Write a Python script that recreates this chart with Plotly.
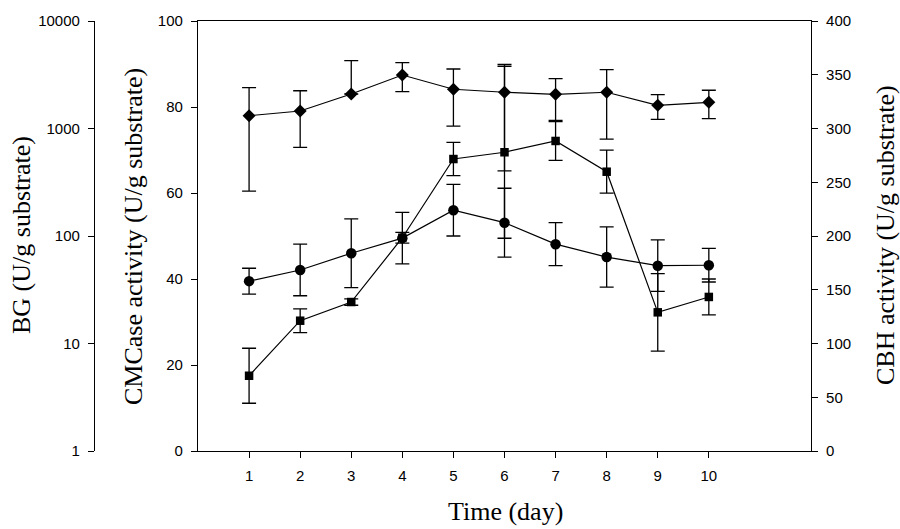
import plotly.graph_objects as go

# ---- data ----
days = [1, 2, 3, 4, 5, 6, 7, 8, 9, 10]

# BG (log axis) - diamonds
bg = [1316, 1455, 2094, 3145, 2317, 2173, 2080, 2173, 1643, 1753]
bg_err_plus = [1080, 790, 2180, 948, 1260, 1775, 825, 1350, 420, 515]
bg_err_minus = [1055, 787, 0, 946, 1265, 1770, 888, 1375, 425, 519]

# CMCase activity - circles
cmc = [39.5, 42.1, 46.0, 49.5, 56.0, 53.1, 48.1, 45.1, 43.1, 43.2]
cmc_err = [3.0, 6.0, 8.0, 6.0, 6.0, 8.0, 5.0, 7.0, 6.0, 3.9]

# CBH activity - squares
cbh = [70.0, 121.2, 138.6, 198.4, 271.6, 277.9, 288.4, 259.8, 129.0, 143.3]
cbh_err = [25.6, 11.0, 3.0, 5.0, 15.5, 80.0, 18.0, 20.0, 36.0, 16.7]

bg_ticks = [1, 10, 100, 1000, 10000]
bg_ticktext = ["1", "10", "100", "1000", "10000"]

W, H = 900, 529
L_PX, R_PX = 198, 811
TICKFONT = dict(family="Liberation Sans, Arial, sans-serif", size=15, color="black")
TITLEFONT = dict(family="Liberation Serif, Times New Roman, serif", size=26, color="black")

def err(arr, minus=None):
    d = dict(type="data", array=arr, visible=True, color="black",
             thickness=1.3, width=7)
    if minus is not None:
        d["symmetric"] = False
        d["arrayminus"] = minus
    return d

fig = go.Figure()

fig.add_trace(go.Scatter(
    x=days, y=bg, yaxis="y3", mode="lines+markers", name="BG",
    line=dict(color="black", width=1.2),
    marker=dict(symbol="diamond", size=10, color="black"),
    error_y=err(bg_err_plus, bg_err_minus)))

fig.add_trace(go.Scatter(
    x=days, y=cbh, yaxis="y2", mode="lines+markers", name="CBH",
    line=dict(color="black", width=1.2),
    marker=dict(symbol="square", size=8.5, color="black"),
    error_y=err(cbh_err)))

fig.add_trace(go.Scatter(
    x=days, y=cmc, yaxis="y", mode="lines+markers", name="CMCase",
    line=dict(color="black", width=1.2),
    marker=dict(symbol="circle", size=10.5, color="black"),
    error_y=err(cmc_err)))

axis_common = dict(showgrid=False, zeroline=False, showline=True,
                   linecolor="black", linewidth=1.2, ticks="outside",
                   ticklen=6, tickwidth=1.2, tickcolor="black",
                   tickfont=TICKFONT, automargin=False)

fig.update_layout(
    width=W, height=H,
    margin=dict(l=0, r=0, t=21, b=78),
    paper_bgcolor="white", plot_bgcolor="white",
    showlegend=False,
    xaxis=dict(domain=[L_PX / W, R_PX / W], range=[0, 12],
               tickvals=days, mirror=True, ticklabelstandoff=5, **axis_common),
    yaxis=dict(range=[0, 100], tickvals=[0, 20, 40, 60, 80, 100],
               ticklabelstandoff=5, **axis_common),
    yaxis2=dict(range=[0, 400], tickvals=[0, 50, 100, 150, 200, 250, 300, 350, 400],
                overlaying="y", side="right", anchor="x",
                ticklabelstandoff=5, **axis_common),
    yaxis3=dict(type="log", range=[0, 4], tickvals=bg_ticks, ticktext=bg_ticktext,
                overlaying="y", side="left", anchor="free", position=94 / W,
                ticklabelstandoff=5, **axis_common),
)

def ypaper(py):
    return (451 - py) / 430

annotations = [
    dict(text="BG (U/g substrate)", x=22 / W, y=ypaper(235), textangle=-90),
    dict(text="CMCase activity (U/g substrate)", x=133 / W, y=ypaper(237), textangle=-90),
    dict(text="CBH activity (U/g substrate)", x=886 / W, y=ypaper(235), textangle=-90),
    dict(text="Time (day)", x=505 / W, y=ypaper(511), textangle=0),
]
for a in annotations:
    fig.add_annotation(xref="paper", yref="paper", showarrow=False,
                       xanchor="center", yanchor="middle", font=TITLEFONT, **a)

fig.write_html("out.html")
